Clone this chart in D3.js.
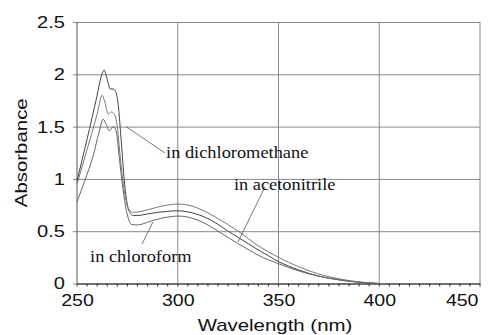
<!DOCTYPE html>
<html><head><meta charset="utf-8">
<script src="https://cdn.jsdelivr.net/npm/d3@7"></script>
<style>body{margin:0;background:#fff}svg{display:block}</style>
</head><body>
<svg id="c" width="493" height="335"></svg>
<script>
// ---- data ----
const xTicks = [250, 300, 350, 400, 450];
const yTicks = [0, 0.5, 1, 1.5, 2, 2.5];
const yTickLabels = ["0", "0.5", "1", "1.5", "2", "2.5"];

const wlA = [250,255,260,262,263.5,265,266.5,268,269.5,270.5,272,273.5,275,276.5,278,280,285,290,295,300,305,310,315,320,325,330,335,340,345,350,360,370,380,390,400];
const dichloromethane = [0.98,1.38,1.80,1.98,2.04,1.95,1.86,1.86,1.82,1.70,1.35,0.98,0.75,0.67,0.65,0.65,0.665,0.68,0.69,0.695,0.685,0.66,0.62,0.565,0.50,0.44,0.38,0.32,0.265,0.21,0.13,0.07,0.035,0.012,0.0];

const wlB = [250,255,260,262.5,264,265.5,267,268.5,270,271.5,273,274.5,276,278,282,290,300,305,310,320,330,340,350,360,370,380,390,400];
const acetonitrile = [0.95,1.28,1.62,1.80,1.72,1.62,1.64,1.62,1.50,1.20,0.95,0.78,0.70,0.68,0.69,0.73,0.76,0.75,0.72,0.62,0.50,0.36,0.25,0.16,0.09,0.045,0.015,0.0];

const wlC = [250,254,258,261,263,264.5,266,268,269.5,271,272.5,274,275.5,277,280,285,290,295,300,305,310,315,320,325,330,335,340,350,360,370,380,390,400];
const chloroform = [0.78,0.99,1.22,1.45,1.57,1.52,1.46,1.50,1.45,1.20,0.95,0.75,0.62,0.565,0.56,0.585,0.615,0.635,0.645,0.635,0.605,0.56,0.50,0.44,0.38,0.325,0.27,0.19,0.12,0.07,0.035,0.012,0.0];

const labels = ["in dichloromethane", "in acetonitrile", "in chloroform"];
const labelPos = [[294.2, 1.20], [327.9, 0.894], [256.5, 0.206]];
const pointerFrom = [[293.7, 1.248], [343.3, 0.923], [287.7, 0.588]];
const pointerTo = [[274.3, 1.50], [329.9, 0.397], [282.3, 0.378]];

// ---- chart ----
const svg = d3.select("#c");
const W = 493, H = 335;
const m = {l: 77, r: 13, t: 22, b: 51.5};
const x = d3.scaleLinear().domain([250, 450]).range([m.l, W - m.r]);
const y = d3.scaleLinear().domain([0, 2.5]).range([H - m.b, m.t]);
const sans = "'Liberation Sans', Arial, sans-serif";
const serif = "'Liberation Serif', 'Times New Roman', serif";

function stretch(sel, k) {
  sel.each(function () {
    const w = this.getComputedTextLength();
    d3.select(this).attr("textLength", w * k).attr("lengthAdjust", "spacingAndGlyphs");
  });
}

// horizontal grid
const gy = svg.append("g").attr("transform", `translate(${m.l},0)`)
  .call(d3.axisLeft(y).tickValues(yTicks).tickFormat((d, i) => yTickLabels[i])
    .tickSize(-(W - m.l - m.r)).tickPadding(12));
gy.select(".domain").remove();
gy.selectAll(".tick line").attr("x1", -4).attr("stroke", "#888").attr("stroke-width", 1);
gy.selectAll(".tick text").attr("font-family", sans).attr("font-size", 17).attr("fill", "#111")
  .call(stretch, 1.18);

// vertical grid
xTicks.slice(1).forEach(t => {
  svg.append("line").attr("x1", x(t)).attr("x2", x(t)).attr("y1", y(2.5)).attr("y2", y(0))
    .attr("stroke", "#888").attr("stroke-width", 1);
});
// left axis
svg.append("line").attr("x1", x(250)).attr("x2", x(250)).attr("y1", y(2.5)).attr("y2", y(0))
  .attr("stroke", "#555").attr("stroke-width", 1);

// x axis with minor ticks
const gx = svg.append("g").attr("transform", `translate(0,${y(0)})`)
  .call(d3.axisBottom(x).tickValues(xTicks).tickFormat(d3.format("d")).tickSize(0).tickPadding(10));
gx.select(".domain").attr("stroke", "#222");
gx.selectAll(".tick text").attr("font-family", sans).attr("font-size", 17).attr("fill", "#111")
  .call(stretch, 1.15);
gx.selectAll(".tick").filter(d => d === 450).select("text")
  .attr("text-anchor", "end").attr("x", -2);
const minor = d3.range(250, 451, 5);
svg.append("g").selectAll("line").data(minor).join("line")
  .attr("x1", d => x(d)).attr("x2", d => x(d))
  .attr("y1", y(0)).attr("y2", d => y(0) + 3)
  .attr("stroke", "#333").attr("stroke-width", 1);

// curves
const line = d3.line().x(d => x(d[0])).y(d => y(d[1])).curve(d3.curveMonotoneX);
const series = [
  {wl: wlA, v: dichloromethane, c: "#444"},
  {wl: wlB, v: acetonitrile, c: "#777"},
  {wl: wlC, v: chloroform, c: "#666"}
];
series.forEach(s => {
  svg.append("path").datum(s.wl.map((w, i) => [w, s.v[i]]))
    .attr("d", line).attr("fill", "none").attr("stroke", s.c).attr("stroke-width", 1);
});

// annotations
labels.forEach((t, i) => {
  svg.append("line")
    .attr("x1", x(pointerFrom[i][0])).attr("y1", y(pointerFrom[i][1]))
    .attr("x2", x(pointerTo[i][0])).attr("y2", y(pointerTo[i][1]))
    .attr("stroke", "#555").attr("stroke-width", 0.8);
  svg.append("text").attr("x", x(labelPos[i][0])).attr("y", y(labelPos[i][1]))
    .attr("font-family", serif).attr("font-size", 17).attr("fill", "#111").text(t)
    .call(stretch, 1.08);
});

// axis titles
svg.append("text").attr("x", 275).attr("y", 331)
  .attr("text-anchor", "middle").attr("font-family", sans).attr("font-size", 17).attr("fill", "#111")
  .text("Wavelength (nm)").call(stretch, 1.2);
svg.append("text").attr("transform", `translate(27,${(m.t + H - m.b) / 2}) rotate(-90)`)
  .attr("text-anchor", "middle").attr("font-family", sans).attr("font-size", 17).attr("fill", "#111")
  .text("Absorbance").call(stretch, 1.2);
</script>
</body></html>
